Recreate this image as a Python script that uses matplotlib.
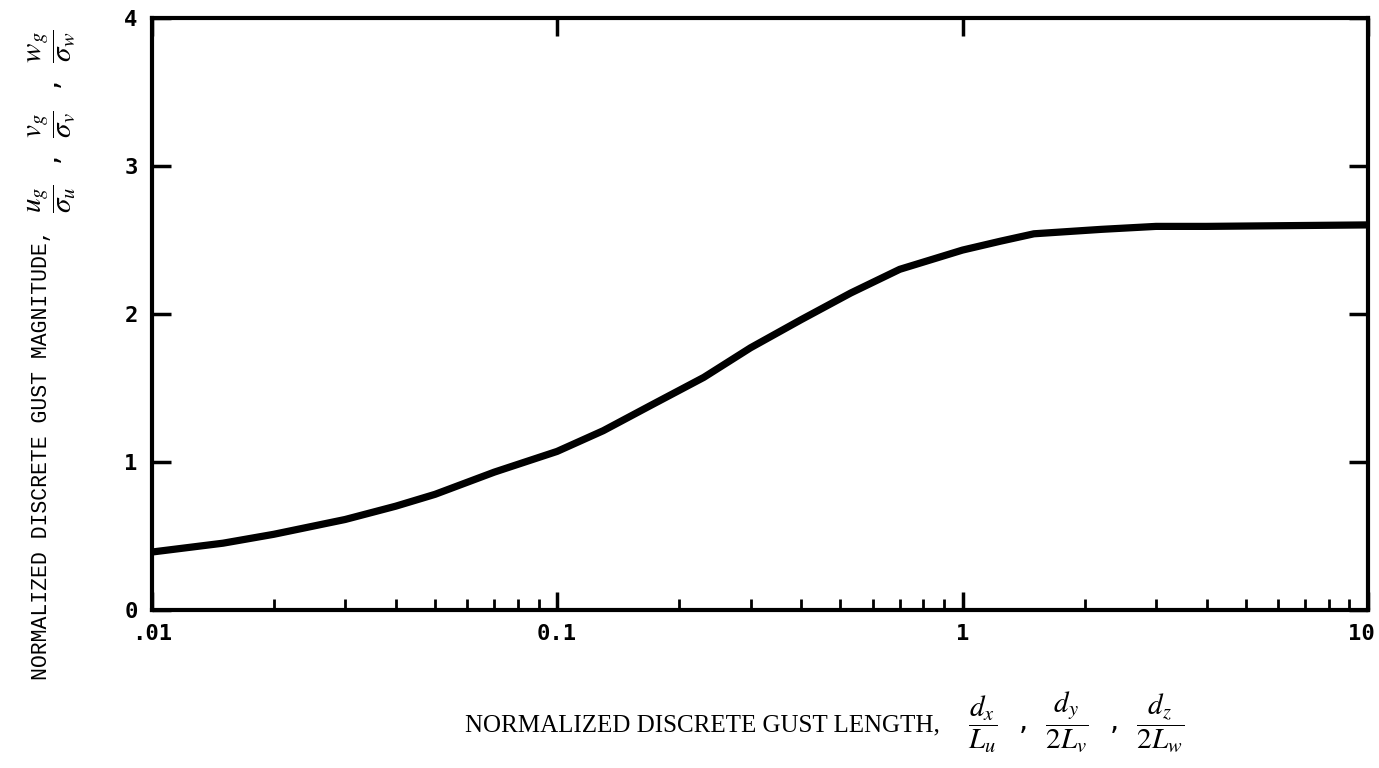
import numpy as np
import matplotlib
matplotlib.use('Agg')
import matplotlib.pyplot as plt
import matplotlib.transforms as mtransforms
from matplotlib.ticker import FixedLocator, LogLocator, NullFormatter

# values
gust_length = [0.01, 0.015, 0.02, 0.03, 0.04, 0.05, 0.07, 0.1, 0.13, 0.17,
               0.23, 0.3, 0.4, 0.53, 0.7, 1.0, 1.24, 1.5, 2.2, 3.0, 4.0, 10.0]
gust_magnitude = [0.39, 0.45, 0.51, 0.61, 0.70, 0.78, 0.93, 1.07, 1.21, 1.38,
                  1.57, 1.77, 1.96, 2.14, 2.30, 2.43, 2.49, 2.54, 2.57, 2.59,
                  2.59, 2.60]

x_ticks = [0.01, 0.1, 1, 10]
x_ticklabels = ['.01', '0.1', '1', '10']
y_ticks = [0, 1, 2, 3, 4]

plt.rcParams['mathtext.fontset'] = 'stix'

fig = plt.figure(figsize=(13.79, 7.68), dpi=100)
ax = fig.add_axes([0.110, 0.206, 0.882, 0.771])

ax.plot(gust_length, gust_magnitude, color='black', lw=5.2,
        solid_capstyle='butt', solid_joinstyle='round')

ax.set_xscale('log')
ax.set_xlim(0.01, 10)
ax.set_ylim(0, 4)

for s in ax.spines.values():
    s.set_linewidth(3)

ax.xaxis.set_major_locator(FixedLocator(x_ticks))
ax.set_xticklabels(x_ticklabels)
ax.xaxis.set_minor_locator(LogLocator(base=10, subs=np.arange(2, 10)))
ax.xaxis.set_minor_formatter(NullFormatter())
ax.set_yticks(y_ticks)

ax.tick_params(axis='x', which='major', direction='in', length=13, width=2.5,
               top=True, pad=10)
ax.tick_params(axis='x', which='minor', direction='in', length=8, width=2,
               top=False)
ax.tick_params(axis='y', which='major', direction='in', length=14, width=2.5,
               right=True, pad=10)

for lbl in ax.get_xticklabels() + ax.get_yticklabels():
    lbl.set_fontfamily('DejaVu Sans Mono')
    lbl.set_fontweight('bold')
    lbl.set_fontsize(16)

# "10" sits just inside the right edge on the original
last = ax.get_xticklabels()[-1]
last.set_horizontalalignment('right')
last.set_transform(last.get_transform() +
                   mtransforms.ScaledTranslation(0.07, 0, fig.dpi_scale_trans))

# x label: plain text then the fractions
fig.text(0.337, 0.0475, 'NORMALIZED DISCRETE GUST LENGTH,',
         fontfamily='Liberation Serif', fontsize=18,
         ha='left', va='baseline')
fig.text(0.702, 0.060,
         r'$\dfrac{d_x}{L_u}$  ,  $\dfrac{d_y}{2L_v}$  ,  $\dfrac{d_z}{2L_w}$',
         fontsize=21, ha='left', va='center')

# y label: rotated plain text then the fractions above it
fig.text(0.030, 0.115, 'NORMALIZED DISCRETE GUST MAGNITUDE,',
         fontfamily='Liberation Mono', fontsize=15.5, rotation=90,
         ha='center', va='bottom')
fig.text(0.037, 0.723,
         r'$\dfrac{u_g}{\sigma_u}$  ,  $\dfrac{v_g}{\sigma_v}$  ,  '
         r'$\dfrac{w_g}{\sigma_w}$',
         fontsize=21, rotation=90, ha='center', va='bottom')

fig.savefig('out.png', dpi=100)
